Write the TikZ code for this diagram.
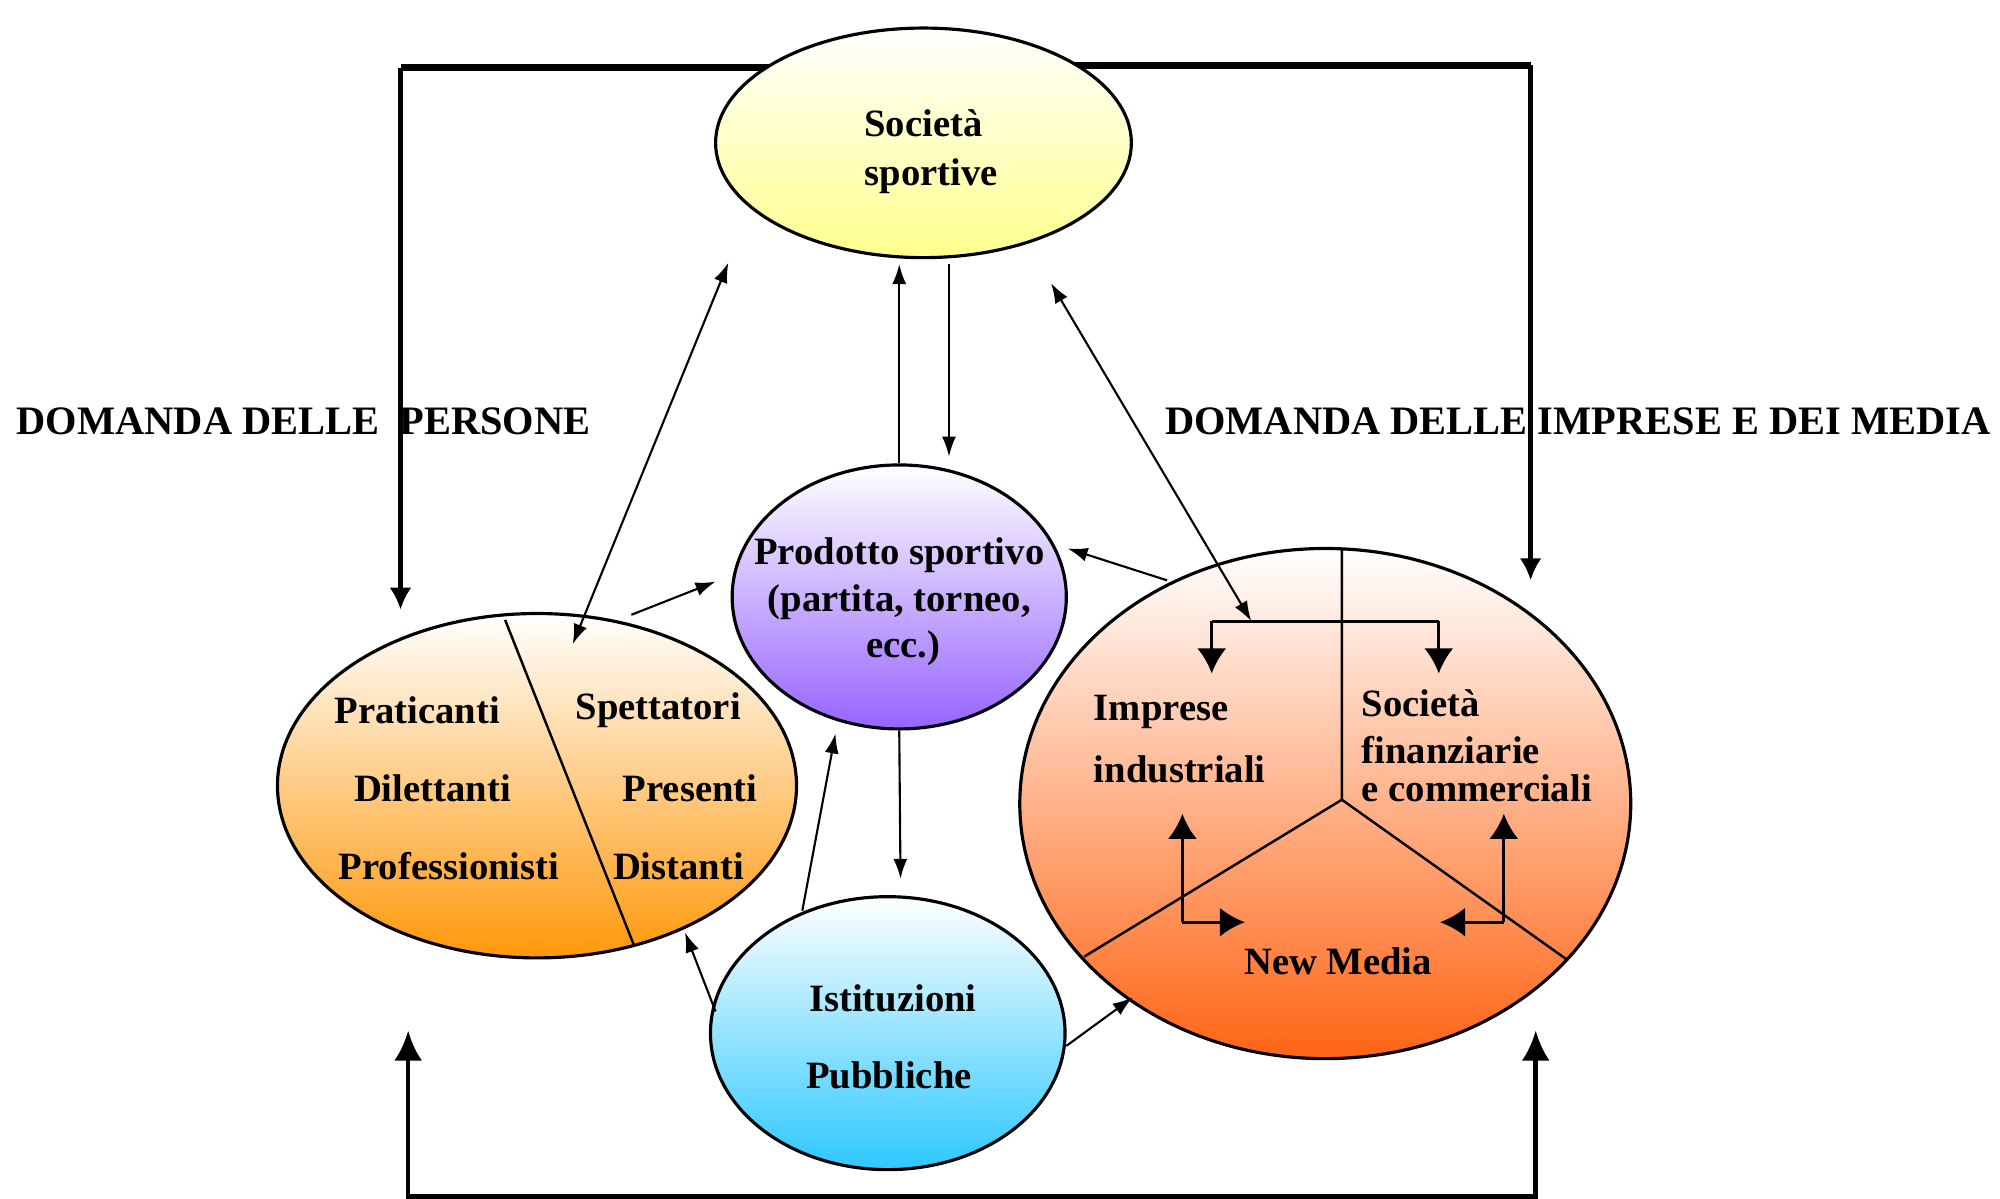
\documentclass[tikz,border=0pt]{standalone}
\usepackage{fontspec}
\setmainfont{Liberation Serif}
\usetikzlibrary{shapes.geometric,arrows.meta,backgrounds}
\definecolor{cyel}{RGB}{255,255,140}
\definecolor{cpur}{RGB}{150,100,255}
\definecolor{corg}{RGB}{255,152,10}
\definecolor{ccya}{RGB}{45,200,255}
\definecolor{cred}{RGB}{255,100,20}
\definecolor{cpink}{RGB}{255,198,185}
\tikzset{
  blob/.style={ellipse, draw, line width=0.9pt, inner sep=0pt, top color=white},
  lbl/.style={font=\bfseries\fontsize{11}{13}\selectfont, inner sep=0pt},
  title/.style={font=\bfseries\fontsize{11.5}{13}\selectfont, inner sep=0pt},
  thin/.style={line width=0.6pt, -{Latex[length=2mm,width=1.4mm]}},
  thinboth/.style={line width=0.6pt, {Latex[length=2mm,width=1.4mm]}-{Latex[length=2mm,width=1.4mm]}},
  frame/.style={line width=1.3pt, -{Latex[length=2.2mm,width=2.2mm]}},
  frameb/.style={line width=1.3pt, {Latex[length=3mm,width=2.8mm]}-{Latex[length=3mm,width=2.8mm]}},
  brk/.style={line width=0.9pt, -{Latex[length=2.5mm,width=2.9mm]}},
  divl/.style={line width=0.7pt},
}
\begin{document}
\begin{tikzpicture}[x=0.012755cm, y=-0.012755cm]
\useasboundingbox (0,0) rectangle (1568,940);
% ellipses
\node[blob, bottom color=cyel, minimum width=4.158cm, minimum height=2.296cm] (soc) at (724,112) {};
\node[blob, bottom color=cpur, minimum width=3.342cm, minimum height=2.640cm] (prod) at (705,468) {};
\node[blob, bottom color=corg, minimum width=5.191cm, minimum height=3.444cm] (pers) at (421,616) {};
\node[blob, bottom color=ccya, minimum width=3.546cm, minimum height=2.730cm] (ist) at (696,810) {};
\node[blob, middle color=cpink, bottom color=cred, minimum width=6.110cm, minimum height=5.102cm] (imp) at (1039,630) {};
% texts
\node[lbl] (t1) at (724,97) {Società};
\node[lbl] (t2) at (730,138) {sportive};
\node[lbl] (t3) at (705,435) {Prodotto sportivo};
\node[lbl] (t4) at (705,472) {(partita, torneo,};
\node[lbl] (t5) at (708,508) {ecc.)};
\node[lbl] (t6) at (327,557) {Praticanti};
\node[lbl] (t7) at (339,618) {Dilettanti};
\node[lbl] (t8) at (352,679) {Professionisti};
\node[lbl] (t9) at (516,557) {Spettatori};
\node[lbl] (t10) at (541,618) {Presenti};
\node[lbl] (t11) at (532,679) {Distanti};
\node[lbl] (t12) at (700,783) {Istituzioni};
\node[lbl] (t13) at (697,843) {Pubbliche};
\node[lbl, anchor=west] (t14) at (857,558) {Imprese};
\node[lbl, anchor=west] (t15) at (857,603) {industriali};
\node[lbl, anchor=west] (t16) at (1067,551) {Società};
\node[lbl, anchor=west] (t17) at (1067,588) {finanziarie};
\node[lbl, anchor=west] (t18) at (1067,618) {e commerciali};
\node[lbl] (t19) at (1049,754) {New Media};
\node[title] (dp) at (238,330) {DOMANDA DELLE\ \ PERSONE};
\node[title] (di) at (1237,330) {DOMANDA DELLE IMPRESE E DEI MEDIA};
% coordinates
\coordinate (tl) at (314,53);
\coordinate (tla) at (314,478);
\coordinate (tr) at (1200,51);
\coordinate (tra) at (1200,455);
\coordinate (bl) at (320,938);
\coordinate (bla) at (320,808);
\coordinate (br) at (1204,938);
\coordinate (bra) at (1204,808);
% frame lines
\begin{pgfonlayer}{background}
\draw[line width=2pt] (soc.center |- tl) -- (tl);
\draw[line width=2pt] (soc.center |- tr) -- (tr);
\draw[frame] (tl) -- (tla);
\draw[frame] (tr) -- (tra);
\end{pgfonlayer}
\draw[frameb] (bla) -- (bl) -- (br) -- (bra);
% divider lines
\coordinate (d1) at (396,486);
\coordinate (d2) at (497,741);
\draw[divl] (d1) -- (d2);
\coordinate (ctr) at (1052,627);
\coordinate (itop) at (1052,430);
\coordinate (ill) at (850,750);
\coordinate (ilr) at (1228,752);
\draw[divl] (itop) -- (ctr) -- (ill);
\draw[divl] (ctr) -- (ilr);
% connectors
\coordinate (a1s) at (571,206);
\coordinate (a1e) at (449,505);
\draw[thinboth] (a1s) -- (a1e);
\coordinate (a2e) at (705,207);
\draw[thin] (prod.north) -- (a2e);
\coordinate (a3s) at (744,207);
\coordinate (a3e) at (744,358);
\draw[thin] (a3s) -- (a3e);
\coordinate (a4s) at (495,482);
\coordinate (a4e) at (561,456);
\draw[thin] (a4s) -- (a4e);
\coordinate (a5s) at (915,455);
\coordinate (a5e) at (837,430);
\draw[thin] (a5s) -- (a5e);
\coordinate (a6s) at (824,222);
\coordinate (a6e) at (981,487);
\draw[thinboth] (a6s) -- (a6e);
\coordinate (a7e) at (706,689);
\draw[thin] (prod.south) -- (a7e);
\coordinate (a8s) at (629,714);
\coordinate (a8e) at (655,575);
\draw[thin] (a8s) -- (a8e);
\coordinate (a9s) at (561,793);
\coordinate (a9e) at (537,731);
\draw[thin] (a9s) -- (a9e);
\coordinate (a10s) at (836,820);
\coordinate (a10e) at (888,782);
\draw[thin] (a10s) -- (a10e);
% brackets in right ellipse
\coordinate (bk1) at (950,487);
\coordinate (bk2) at (1128,487);
\coordinate (bk1e) at (950,528);
\coordinate (bk2e) at (1128,528);
\draw[brk] (bk1) -- (bk1e);
\draw[brk] (bk2) -- (bk2e);
\draw[line width=0.9pt] (bk1) -- (bk2);
\coordinate (lb1) at (927,723);
\coordinate (lb1t) at (927,638);
\coordinate (lb1r) at (976,723);
\draw[brk] (lb1) -- (lb1t);
\draw[brk] (lb1) -- (lb1r);
\coordinate (lb2) at (1179,723);
\coordinate (lb2t) at (1179,638);
\coordinate (lb2l) at (1129,723);
\draw[brk] (lb2) -- (lb2t);
\draw[brk] (lb2) -- (lb2l);
\end{tikzpicture}
\end{document}
